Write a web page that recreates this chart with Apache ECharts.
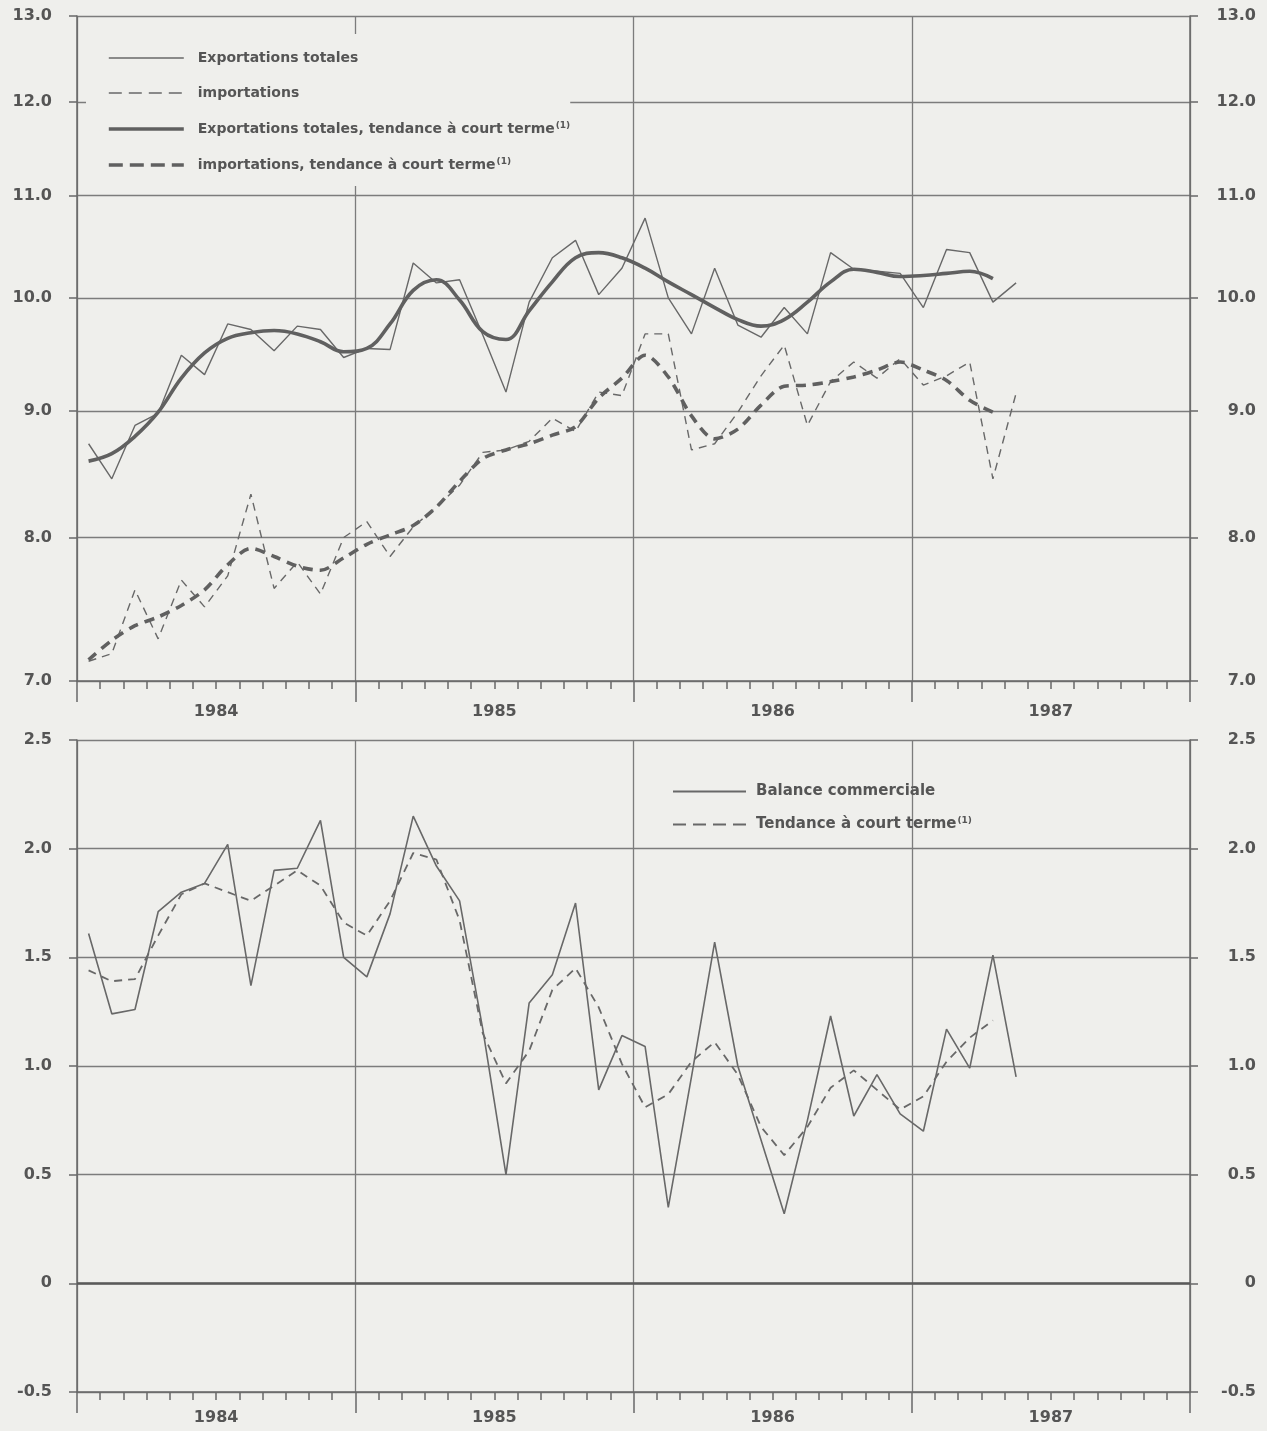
<!DOCTYPE html>
<html><head><meta charset="utf-8">
<script src="https://cdn.jsdelivr.net/npm/echarts@6/dist/echarts.min.js"></script>
<style>html,body{margin:0;padding:0;background:#efefec;}#c{width:1267px;height:1431px;}</style>
</head><body><div id="c"></div>
<script>
// Monthly observations, Jan 1984 .. May 1987
const months = ['1984-01','1984-02','1984-03','1984-04','1984-05','1984-06','1984-07','1984-08','1984-09','1984-10','1984-11','1984-12',
  '1985-01','1985-02','1985-03','1985-04','1985-05','1985-06','1985-07','1985-08','1985-09','1985-10','1985-11','1985-12',
  '1986-01','1986-02','1986-03','1986-04','1986-05','1986-06','1986-07','1986-08','1986-09','1986-10','1986-11','1986-12',
  '1987-01','1987-02','1987-03','1987-04','1987-05'];
const yearLabels = ['1984','1985','1986','1987'];
const topTickValues = [7, 8, 9, 10, 11, 12, 13];

const exportsTotal = [8.73,8.45,8.88,8.98,9.48,9.31,9.76,9.71,9.52,9.74,9.71,9.46,
  9.54,9.53,10.33,10.14,10.17,9.66,9.16,9.96,10.38,10.55,10.03,10.28,
  10.77,10.00,9.67,10.28,9.75,9.64,9.91,9.67,10.43,10.27,10.25,10.23,
  9.91,10.46,10.43,9.96,10.14];
const exportsTrend = [8.59,8.65,8.79,8.99,9.28,9.50,9.63,9.68,9.70,9.67,9.60,9.51,
  9.54,9.76,10.07,10.17,9.98,9.69,9.62,9.88,10.15,10.38,10.43,10.38,
  10.28,10.15,10.03,9.91,9.80,9.74,9.80,9.96,10.15,10.27,10.24,10.20,
  10.21,10.23,10.25,10.18];
const importsTotal = [7.13,7.18,7.62,7.28,7.69,7.50,7.72,8.33,7.63,7.82,7.59,8.00,
  8.12,7.86,8.08,8.23,8.40,8.66,8.68,8.75,8.94,8.83,9.16,9.13,
  9.67,9.67,8.68,8.73,8.99,9.30,9.57,8.88,9.25,9.42,9.28,9.45,
  9.22,9.30,9.42,8.45,9.15];
const importsTrend = [7.14,7.27,7.37,7.43,7.51,7.62,7.80,7.92,7.86,7.79,7.76,7.85,
  7.95,8.02,8.09,8.23,8.43,8.61,8.68,8.73,8.80,8.87,9.11,9.28,
  9.48,9.29,8.96,8.77,8.85,9.05,9.21,9.22,9.25,9.29,9.35,9.42,
  9.35,9.26,9.09,8.99];
const balance = [1.61,1.24,1.26,1.71,1.80,1.84,2.02,1.37,1.90,1.91,2.13,1.50,
  1.41,1.70,2.15,1.92,1.76,1.17,0.50,1.29,1.42,1.75,0.89,1.14,
  1.09,0.35,0.95,1.57,1.00,0.66,0.32,0.75,1.23,0.77,0.96,0.78,
  0.70,1.17,0.99,1.51,0.95];
const balanceTrend = [1.44,1.39,1.40,1.60,1.79,1.84,1.80,1.76,1.83,1.90,1.83,1.66,
  1.60,1.76,1.98,1.95,1.67,1.15,0.92,1.07,1.35,1.45,1.27,1.01,
  0.81,0.87,1.02,1.11,0.96,0.72,0.59,0.72,0.90,0.98,0.89,0.80,
  0.86,1.02,1.13,1.21];

const names = {
  exp: 'Exportations totales',
  imp: 'importations',
  expT: 'Exportations totales, tendance à court terme',
  impT: 'importations, tendance à court terme',
  bal: 'Balance commerciale',
  balT: 'Tendance à court terme'
};
const supNames = [names.expT, names.impT, names.balT];

// x position = month index, centred in its month
function pts(arr) { return arr.map((v, i) => [months.indexOf(months[i]) + 0.5, v]); }

const FONT = 'DejaVu Sans';
const INK = '#555555';
const LINE = '#686868';
const DARK = '#606060';
const GRID = '#7c7c7c';
const BG = '#efefec';

function xAxisDef(gridIndex, labelMargin) {
  return {
    type: 'value', gridIndex, min: 0, max: 48, interval: 12,
    axisLine: { show: true, onZero: false, lineStyle: { color: LINE, width: 1.5 } },
    axisTick: { show: true, length: 21, inside: false, customValues: [0, 12, 24, 36, 48],
      lineStyle: { color: LINE, width: 1.5 } },
    minorTick: { show: true, splitNumber: 12, length: 8, lineStyle: { color: LINE, width: 1.5 } },
    splitLine: { show: true, lineStyle: { color: GRID, width: 1.3 } },
    axisLabel: { customValues: [6, 18, 30, 42], margin: labelMargin,
      formatter: v => yearLabels[Math.floor(v / 12)],
      fontFamily: FONT, fontWeight: 'bold', fontSize: 16, color: INK }
  };
}
function yLog(position, show) {
  return {
    type: 'log', logBase: 10, gridIndex: 0, position, min: 7, max: 13,
    axisLine: { show: true, lineStyle: { color: LINE, width: 1.5 } },
    axisTick: { show: true, length: 8, inside: false, customValues: topTickValues,
      lineStyle: { color: LINE, width: 1.5 } },
    splitLine: { show: show, lineStyle: { color: GRID, width: 1.3 } },
    minorTick: { show: false }, minorSplitLine: { show: false },
    axisLabel: { customValues: topTickValues, formatter: v => Number(v).toFixed(1),
      margin: position === 'left' ? 25 : 66, align: 'right',
      fontFamily: FONT, fontWeight: 'bold', fontSize: 16, color: INK }
  };
}
function yLin(position, show) {
  return {
    type: 'value', gridIndex: 1, position, min: -0.5, max: 2.5, interval: 0.5,
    axisLine: { show: true, onZero: false, lineStyle: { color: LINE, width: 1.5 } },
    axisTick: { show: true, length: 8, inside: false, lineStyle: { color: LINE, width: 1.5 } },
    splitLine: { show: show, lineStyle: { color: GRID, width: 1.3 } },
    axisLabel: { formatter: v => (v === 0 ? '0' : Number(v).toFixed(1)),
      margin: position === 'left' ? 25 : 66, align: 'right',
      fontFamily: FONT, fontWeight: 'bold', fontSize: 16, color: INK }
  };
}

function legendText(size) {
  return {
    fontFamily: FONT, fontWeight: 'bold', fontSize: size, color: INK,
    rich: {
      t: { fontFamily: FONT, fontWeight: 'bold', fontSize: size, color: INK, lineHeight: size + 2 },
      s: { fontFamily: FONT, fontWeight: 'bold', fontSize: 9, color: INK, verticalAlign: 'top', lineHeight: size + 2, padding: [0, 0, 0, 1] }
    }
  };
}
const legendFormatter = name => supNames.includes(name) ? '{t|' + name + '}{s|(1)}' : '{t|' + name + '}';

const chart = echarts.init(document.getElementById('c'), null, { renderer: 'canvas' });
chart.setOption({
  backgroundColor: BG,
  animation: false,
  grid: [
    { left: 77, right: 77, top: 16, height: 665 },
    { left: 77, right: 77, top: 740, height: 652 }
  ],
  xAxis: [xAxisDef(0, 23), xAxisDef(1, 18)],
  yAxis: [yLog('left', true), yLog('right', false), yLin('left', true), yLin('right', false)],
  legend: [
    {
      orient: 'vertical', left: 86, top: 34, itemWidth: 75, itemHeight: 14, itemGap: 21,
      padding: [17, 0, 14, 21], backgroundColor: BG,
      itemStyle: { opacity: 0 },
      data: [
        { name: names.exp, lineStyle: { width: 1.4, color: LINE, type: 'solid' } },
        { name: names.imp, lineStyle: { width: 1.4, color: LINE, type: [13, 7] } },
        { name: names.expT, lineStyle: { width: 3.6, color: DARK, type: 'solid' } },
        { name: names.impT, lineStyle: { width: 3.6, color: DARK, type: [14, 7] } }
      ],
      formatter: legendFormatter,
      textStyle: Object.assign(legendText(14), { padding: [0, 0, 0, 9] })
    },
    {
      orient: 'vertical', left: 672, top: 784, itemWidth: 73, itemHeight: 14, itemGap: 17, padding: 0,
      itemStyle: { opacity: 0 },
      data: [
        { name: names.bal, lineStyle: { width: 2, color: LINE, type: 'solid' } },
        { name: names.balT, lineStyle: { width: 2, color: LINE, type: [13, 7] } }
      ],
      formatter: legendFormatter,
      textStyle: Object.assign(legendText(15), { padding: [0, 0, 0, 5] })
    }
  ],
  series: [
    { name: names.exp, type: 'line', xAxisIndex: 0, yAxisIndex: 0, data: pts(exportsTotal), symbol: 'none',
      lineStyle: { color: LINE, width: 1.4 }, itemStyle: { color: LINE }, z: 3 },
    { name: names.imp, type: 'line', xAxisIndex: 0, yAxisIndex: 0, data: pts(importsTotal), symbol: 'none',
      lineStyle: { color: LINE, width: 1.4, type: [8, 6] }, itemStyle: { color: LINE }, z: 3 },
    { name: names.expT, type: 'line', xAxisIndex: 0, yAxisIndex: 0, data: pts(exportsTrend), symbol: 'none', smooth: 0.4,
      lineStyle: { color: DARK, width: 3.6 }, itemStyle: { color: DARK }, z: 4 },
    { name: names.impT, type: 'line', xAxisIndex: 0, yAxisIndex: 0, data: pts(importsTrend), symbol: 'none', smooth: 0.3,
      lineStyle: { color: DARK, width: 3.6, type: [10, 7] }, itemStyle: { color: DARK }, z: 4 },
    { name: names.bal, type: 'line', xAxisIndex: 1, yAxisIndex: 2, data: pts(balance), symbol: 'none',
      lineStyle: { color: LINE, width: 1.6 }, itemStyle: { color: LINE }, z: 3,
      markLine: { silent: true, symbol: ['none', 'none'], label: { show: false },
        lineStyle: { type: 'solid', color: '#5a5a5a', width: 2.6 }, data: [{ yAxis: 0 }] } },
    { name: names.balT, type: 'line', xAxisIndex: 1, yAxisIndex: 2, data: pts(balanceTrend), symbol: 'none',
      lineStyle: { color: LINE, width: 1.8, type: [8, 6] }, itemStyle: { color: LINE }, z: 3 }
  ]
});
</script></body></html>
